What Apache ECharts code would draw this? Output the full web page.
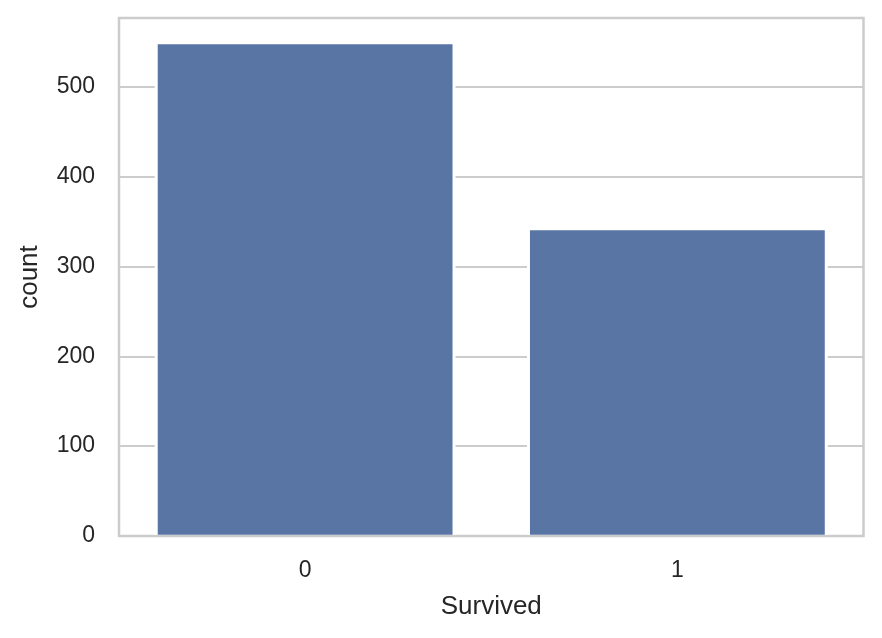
<!DOCTYPE html>
<html>
<head>
<meta charset="utf-8">
<script src="https://cdn.jsdelivr.net/npm/echarts@6/dist/echarts.min.js"></script>
<style>
  html, body { margin: 0; padding: 0; background: #fff; }
  #chart { width: 882px; height: 638px; }
</style>
</head>
<body>
<div id="chart"></div>
<script>
// counts per category of Survived
var categories = ['0', '1'];
var counts = [549, 342];
var yTicks = [0, 100, 200, 300, 400, 500];

var chart = echarts.init(document.getElementById('chart'));
var font = '"Liberation Sans", Arial, sans-serif';
var barColor = '#5975a4';

// bar with a white edge like matplotlib, the edge stops at the bottom spine
function renderBar(params, api) {
    var i = api.value(0);
    var top = api.coord([i, api.value(1)]);
    var base = api.coord([i, 0]);
    var w = api.size([1, 0])[0] * 0.8;
    var x0 = top[0] - w / 2;
    var yb = base[1] - 1.25;
    var e = 1.5;
    return {
        type: 'group',
        children: [{
            type: 'rect',
            shape: { x: x0 - e, y: top[1] - e, width: w + 2 * e, height: yb - top[1] + e },
            style: { fill: '#ffffff' }
        }, {
            type: 'rect',
            shape: { x: x0 + e, y: top[1] + e, width: w - 2 * e, height: yb - top[1] - e },
            style: { fill: barColor }
        }]
    };
}

chart.setOption({
    animation: false,
    grid: {
        left: 119, right: 18.5, top: 18, bottom: 102,
        show: true, borderColor: '#cccccc', borderWidth: 2.5
    },
    xAxis: {
        type: 'category',
        data: categories,
        name: 'Survived',
        nameLocation: 'middle',
        nameGap: 58,
        nameTextStyle: { color: '#262626', fontSize: 26, fontFamily: font },
        axisLine: { show: false },
        axisTick: { show: false },
        axisLabel: { color: '#262626', fontSize: 23, fontFamily: font, margin: 23 }
    },
    yAxis: {
        type: 'value',
        min: 0,
        max: 576.45,
        interval: 100,
        name: 'count',
        nameLocation: 'middle',
        nameGap: 76,
        nameTextStyle: { color: '#262626', fontSize: 26, fontFamily: font },
        axisLine: { show: false },
        axisTick: { show: false },
        splitLine: { lineStyle: { color: '#cccccc', width: 2 } },
        axisLabel: {
            color: '#262626', fontSize: 23, fontFamily: font, margin: 24,
            formatter: function (v) { return yTicks.indexOf(v) >= 0 ? String(v) : ''; }
        }
    },
    series: [{
        type: 'custom',
        renderItem: renderBar,
        encode: { x: 0, y: 1 },
        data: categories.map(function (c, i) { return [i, counts[i]]; })
    }]
});
</script>
</body>
</html>
